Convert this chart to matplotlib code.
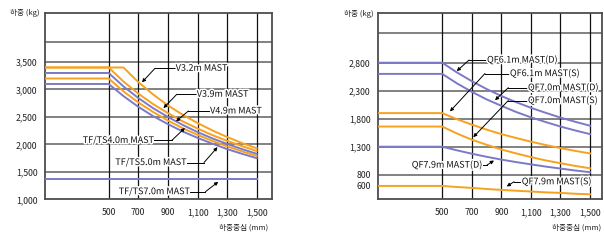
import numpy as np
import matplotlib.pyplot as plt
import matplotlib.patheffects as pe

plt.rcParams['font.family'] = ['Noto Sans CJK KR', 'DejaVu Sans']

ORANGE = '#F6A21E'
BLUE = '#7C7AC6'

# load centre (mm)
x_mm = [0, 500, 600, 700, 800, 900, 1000, 1100, 1200, 1300, 1400, 1500]
x_ticks = [500, 700, 900, 1100, 1300, 1500]
x_tick_labels = ['500', '700', '900', '1,100', '1,300', '1,500']

# left chart (kg)
v32 = [3400, 3400, 3400, 3135, 2910, 2710, 2540, 2390, 2255, 2135, 2025, 1930]
v39 = [3400, 3400, 3145, 2925, 2735, 2570, 2420, 2290, 2170, 2065, 1970, 1880]
v49 = [3300, 3300, 3055, 2845, 2660, 2500, 2355, 2225, 2110, 2010, 1915, 1830]
tf40 = [3200, 3200, 2965, 2765, 2590, 2435, 2295, 2175, 2065, 1965, 1875, 1790]
tf50 = [3100, 3100, 2880, 2685, 2515, 2370, 2235, 2120, 2015, 1915, 1830, 1750]
tf70 = [1370, 1370, 1370, 1370, 1370, 1370, 1370, 1370, 1370, 1370, 1370, 1370]
left_yticks = [1000, 1500, 2000, 2500, 3000, 3500]
left_ylabels = ['1,000', '1,500', '2,000', '2,500', '3,000', '3,500']

# right chart (kg)
qf61d = [2800, 2800, 2625, 2470, 2330, 2205, 2095, 1995, 1905, 1820, 1745, 1675]
qf61s = [2600, 2600, 2430, 2280, 2145, 2030, 1920, 1825, 1740, 1660, 1590, 1525]
qf70d = [1900, 1900, 1790, 1695, 1605, 1525, 1455, 1390, 1330, 1275, 1225, 1180]
qf70s = [1660, 1660, 1535, 1425, 1335, 1250, 1180, 1115, 1055, 1005, 957, 915]
qf79d = [1300, 1300, 1235, 1175, 1120, 1070, 1025, 985, 945, 910, 875, 845]
qf79s = [600, 600, 580, 565, 545, 529, 514, 500, 485, 475, 460, 450]
right_yticks = [600, 800, 1300, 1800, 2300, 2800]
right_ylabels = ['600', '800', '1,300', '1,800', '2,300', '2,800']

fig = plt.figure(figsize=(6.04, 2.40), dpi=100)
ax1 = fig.add_axes([0.0745, 0.1692, 0.3753, 0.7754])
ax2 = fig.add_axes([0.6263, 0.1696, 0.3699, 0.7775])

halo = [pe.withStroke(linewidth=2.2, foreground='white')]


def style_axes(ax, xlim, ylim, hgrid, yticks, ylabels):
    ax.set_xlim(*xlim)
    ax.set_ylim(*ylim)
    for v in hgrid:
        ax.axhline(v, color='#777777', lw=1.3, zorder=1)
    for v in x_ticks:
        ax.axvline(v, color='#111111', lw=0.9, zorder=1)
    ax.set_xticks(x_ticks)
    ax.set_xticklabels(x_tick_labels)
    ax.set_yticks(yticks)
    ax.set_yticklabels(ylabels)
    ax.tick_params(length=0, labelsize=6.3, colors='#222222')
    ax.tick_params(axis='x', pad=6.5)
    ax.tick_params(axis='y', pad=5.5)
    for s in ax.spines.values():
        s.set_color('#4d4d4d')
        s.set_linewidth(1.3)


def label(ax, text, pos, knee, tip, ha):
    ax.text(pos[0], pos[1], text, ha=ha, va='center', fontsize=6.5,
            color='#111111', path_effects=halo, zorder=6)
    ax.plot([pos[0], knee[0]], [pos[1], knee[1]], color='black', lw=0.7, zorder=5)
    ax.annotate('', xy=tip, xytext=knee, zorder=5,
                arrowprops=dict(arrowstyle='-|>', color='black', lw=0.7,
                                mutation_scale=5, shrinkA=0, shrinkB=0))


style_axes(ax1, (70, 1601), (1000, 4386), [1500, 2000, 2500, 3000, 3500, 3870],
           left_yticks, left_ylabels)
ax1.plot(x_mm, tf70, color=BLUE, lw=1.4, zorder=3)
ax1.plot(x_mm, tf50, color=BLUE, lw=1.4, zorder=3)
ax1.plot(x_mm, tf40, color=ORANGE, lw=1.4, zorder=3)
ax1.plot(x_mm, v49, color=BLUE, lw=1.4, zorder=3)
ax1.plot(x_mm, v39, color=ORANGE, lw=1.4, zorder=3)
ax1.plot(x_mm, v32, color=ORANGE, lw=1.4, zorder=3)

label(ax1, 'V3.2m MAST', (953, 3385), (813, 3385), (725, 3130), 'left')
label(ax1, 'V3.9m MAST', (1095, 2912), (960, 2912), (870, 2660), 'left')
label(ax1, 'V4.9m MAST', (1185, 2608), (1038, 2608), (955, 2420), 'left')
label(ax1, 'TF/TS4.0m MAST', (806, 2072), (926, 2072), (1015, 2300), 'right')
label(ax1, 'TF/TS5.0m MAST', (1027, 1671), (1144, 1671), (1235, 1950), 'right')
label(ax1, 'TF/TS7.0m MAST', (1049, 1140), (1154, 1140), (1240, 1320), 'right')

style_axes(ax2, (67, 1579), (361, 3693), [800, 1300, 1800, 2300, 2800, 3325],
           right_yticks, right_ylabels)
ax2.plot(x_mm, qf79s, color=ORANGE, lw=1.4, zorder=3)
ax2.plot(x_mm, qf79d, color=BLUE, lw=1.4, zorder=3)
ax2.plot(x_mm, qf70s, color=ORANGE, lw=1.4, zorder=3)
ax2.plot(x_mm, qf70d, color=ORANGE, lw=1.4, zorder=3)
ax2.plot(x_mm, qf61s, color=BLUE, lw=1.4, zorder=3)
ax2.plot(x_mm, qf61d, color=BLUE, lw=1.4, zorder=3)

label(ax2, 'QF6.1m MAST(D)', (803, 2848), (681, 2848), (598, 2650), 'left')
label(ax2, 'QF6.1m MAST(S)', (958, 2607), (789, 2607), (552, 1930), 'left')
label(ax2, 'QF7.0m MAST(D)', (1080, 2354), (947, 2354), (857, 2130), 'left')
label(ax2, 'QF7.0m MAST(S)', (1080, 2125), (947, 2125), (710, 1470), 'left')
label(ax2, 'QF7.9m MAST(D)', (769, 973), (803, 973), (850, 1054), 'right')
label(ax2, 'QF7.9m MAST(S)', (1038, 675), (986, 675), (936, 590), 'left')

fig.text(0.0406, 0.9446, '하중 (kg)', ha='center', va='center', fontsize=5.5, color='#222222')
fig.text(0.5936, 0.9417, '하중 (kg)', ha='center', va='center', fontsize=5.5, color='#222222')
fig.text(0.404, 0.0529, '하중중심 (mm)', ha='center', va='center', fontsize=5.5, color='#222222')
fig.text(0.9553, 0.0529, '하중중심 (mm)', ha='center', va='center', fontsize=5.5, color='#222222')

fig.savefig('out.png', dpi=100)
